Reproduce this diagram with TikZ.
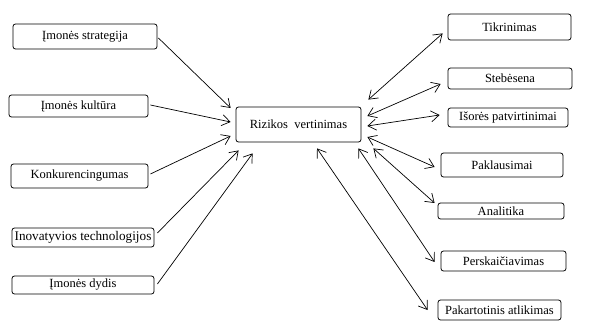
\documentclass[tikz,border=0pt]{standalone}
\usepackage{fontspec}
\setmainfont{Liberation Serif}
\usetikzlibrary{arrows.meta,calc}
\begin{document}
\begin{tikzpicture}[x=1pt,y=-1pt,
  box/.style={draw,line width=0.8pt,rounded corners=2.5pt,inner sep=0pt,font=\fontsize{12.5}{14}\selectfont},
  arr/.style={line width=0.7pt,-{Straight Barb[length=8,width=11,line width=0.7pt]}},
  darr/.style={line width=0.7pt,{Straight Barb[length=8,width=11,line width=0.7pt]}-{Straight Barb[length=8,width=11,line width=0.7pt]}}]
\useasboundingbox (0,0) rectangle (589,334);
% left boxes
\node[box,minimum width=144,minimum height=25] (l1) at (85,36.5) {Įmonės\ strategija};
\node[box,minimum width=139,minimum height=22] (l2) at (78.5,106) {Įmonės kultūra};
\node[box,minimum width=137,minimum height=24] (l3) at (79.5,176) {Konkurencingumas};
\node[box,minimum width=142,minimum height=19,font=\fontsize{13.2}{14}\selectfont] (l4) at (83,237.5) {Inovatyvios technologijos};
\node[box,minimum width=142,minimum height=18] (l5) at (83,285) {Įmonės\ dydis};
% center
\node[box,minimum width=125,minimum height=35] (c) at (298.5,124.5) {Rizikos\ \ vertinimas};
% right boxes
\node[box,minimum width=123,minimum height=26] (r1) at (509.5,27) {Tikrinimas};
\node[box,minimum width=124,minimum height=21] (r2) at (510,78.5) {Stebėsena};
\node[box,minimum width=120,minimum height=19] (r3) at (508,117.5) {Išorės patvirtinimai};
\node[box,minimum width=122,minimum height=24] (r4) at (502,165) {Paklausimai};
\node[box,minimum width=126,minimum height=16] (r5) at (501,211) {Analitika};
\node[box,minimum width=125,minimum height=20] (r6) at (503.5,261) {Perskaičiavimas};
\node[box,minimum width=123,minimum height=20] (r7) at (499.5,310) {Pakartotinis\ atlikimas};
% left arrows
\draw[arr] ($(l1.east)+(1,1.5)$) -- ($(c.west)+(-5,-16.5)$);
\draw[arr] ($(l2.east)+(2,-1)$) -- ($(c.west)+(-5,-2.5)$);
\draw[arr] ($(l3.east)+(2,-2)$) -- ($(c.west)+(-5,11.5)$);
\draw[arr] ($(l4.east)+(3,-4.5)$) -- ($(c.south west)+(3,8)$);
\draw[arr] ($(l5.east)+(3,-1)$) -- ($(c.south west)+(17,11)$);
% right arrows
\draw[darr] ($(c.north east)+(7,-7)$) -- ($(r1.south west)+(-5,-7)$);
\draw[darr] ($(c.east)+(6,-8.5)$) -- ($(r2.west)+(-7,5.5)$);
\draw[darr] ($(c.east)+(6,1.5)$) -- ($(r3.west)+(-8,-2.5)$);
\draw[darr] ($(c.east)+(6,12.5)$) -- ($(r4.west)+(-6,2)$);
\draw[darr] ($(c.south east)+(12,6)$) -- ($(r5.west)+(-3,-8)$);
\draw[darr] ($(c.south east)+(-3,6)$) -- ($(r6.west)+(-6,1)$);
\draw[darr] ($(c.south)+(18.5,6)$) -- ($(r7.west)+(-10,0)$);
\end{tikzpicture}
\end{document}
